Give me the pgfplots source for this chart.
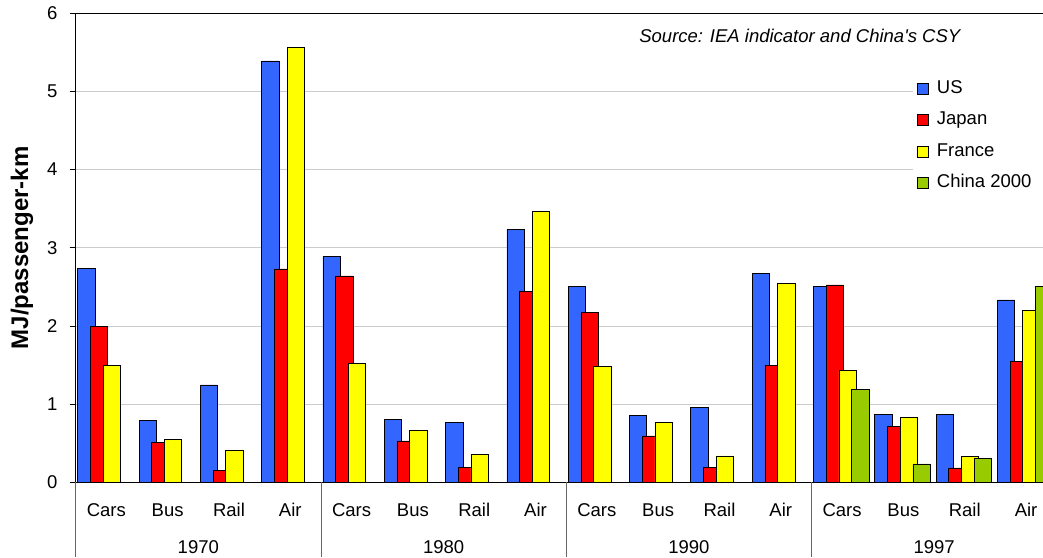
\documentclass[border=0pt]{standalone}
\usepackage{fontspec}
\setmainfont{Liberation Sans}[Ligatures=TeXOff]
\usepackage{pgfplots}
\pgfplotsset{compat=1.18}

\definecolor{usBlue}{RGB}{51,102,255}
\definecolor{jpRed}{RGB}{255,0,0}
\definecolor{frYellow}{RGB}{255,255,0}
\definecolor{cnGreen}{RGB}{153,204,0}
\newcommand{\lblfont}{\fontsize{18.5}{21}\selectfont}

\begin{document}
\begin{tikzpicture}
\begin{axis}[
  scale only axis,
  width=981pt, height=469pt,
  xmin=-0.5, xmax=15.5, ymin=0, ymax=6,
  clip=false,
  ybar, bar width=17.3pt,
  xtick={0,...,15},
  xticklabels={Cars,Bus,Rail,Air,Cars,Bus,Rail,Air,Cars,Bus,Rail,Air,Cars,Bus,Rail,Air},
  ytick={0,...,6},
  tick align=outside,
  ytick pos=left, xtick pos=bottom,
  major tick length=6pt,
  xtick style={draw=none},
  ytick style={black, line width=0.7pt},
  ymajorgrids,
  grid style={gray!40, line width=0.9pt},
  axis line style={black, line width=0.8pt},
  tick label style={font=\lblfont},
  /pgf/number format/assume math mode=true,
  xticklabel style={anchor=base, yshift=-28pt},
  yticklabel style={anchor=east, inner sep=0pt, xshift=-12pt},
  ylabel={MJ/passenger-km},
  ylabel style={font=\fontsize{24}{27}\selectfont\bfseries, at={(rel axis cs:-0.0486,0.5)}, anchor=base},
  legend cell align=left,
  legend image code/.code={\draw[#1, draw=black, line width=0.7pt] (0pt,-5.5pt) rectangle (11pt,5.5pt);},
  legend style={at={(rel axis cs:0.8535,0.8685)}, anchor=north west, draw=none, fill=white,
    font=\lblfont, inner xsep=4pt, inner ysep=3pt, row sep=10.5pt,
    nodes={inner ysep=2pt, inner xsep=8pt, text height=13pt, text depth=4pt}},
]
\addplot[fill=usBlue, draw=black, line width=0.7pt, bar shift=-20pt] coordinates {
  (0,2.74) (1,0.795) (2,1.245) (3,5.39)
  (4,2.89) (5,0.80) (6,0.765) (7,3.24)
  (8,2.51) (9,0.855) (10,0.953) (11,2.667)
  (12,2.51) (13,0.868) (14,0.868) (15,2.333)
};
\addplot[fill=jpRed, draw=black, line width=0.7pt, bar shift=-7.3pt] coordinates {
  (0,1.99) (1,0.51) (2,0.15) (3,2.73)
  (4,2.64) (5,0.53) (6,0.19) (7,2.44)
  (8,2.17) (9,0.594) (10,0.188) (11,1.50)
  (12,2.526) (13,0.714) (14,0.184) (15,1.551)
};
\addplot[fill=frYellow, draw=black, line width=0.7pt, bar shift=5.4pt] coordinates {
  (0,1.50) (1,0.545) (2,0.41) (3,5.56)
  (4,1.52) (5,0.667) (6,0.355) (7,3.47)
  (8,1.48) (9,0.765) (10,0.338) (11,2.547)
  (12,1.43) (13,0.833) (14,0.333) (15,2.20)
};
\addplot[fill=cnGreen, draw=black, line width=0.7pt, bar shift=18.1pt] coordinates {
  (12,1.19) (13,0.235) (14,0.303) (15,2.51)
};
\legend{US,Japan,France,China 2000}

% group separators and year labels under the axis
\pgfplotsinvokeforeach{-0.5,3.5,7.5,11.5}{
  \draw[black!60, line width=0.8pt] (axis cs:#1,0) -- ([yshift=-74.7pt]axis cs:#1,0);
}
\node[font=\lblfont, anchor=base, yshift=-71pt] at (axis cs:1.5,0) {1970};
\node[font=\lblfont, anchor=base, yshift=-71pt] at (axis cs:5.5,0) {1980};
\node[font=\lblfont, anchor=base, yshift=-71pt] at (axis cs:9.5,0) {1990};
\node[font=\lblfont, anchor=base, yshift=-71pt] at (axis cs:13.5,0) {1997};

\node[font=\fontsize{18.5}{21}\selectfont\itshape, anchor=base] at (axis cs:11.31,5.626) {Source: IEA indicator and China's CSY};
\coordinate (sw) at (rel axis cs:0,0);
\end{axis}
% the reference is cut just before the right edge of the axis
\pgfresetboundingbox
\useasboundingbox ([shift={(-75.7pt,-74.7pt)}]sw) rectangle ([shift={(967.3pt,482.3pt)}]sw);
\end{tikzpicture}
\end{document}
